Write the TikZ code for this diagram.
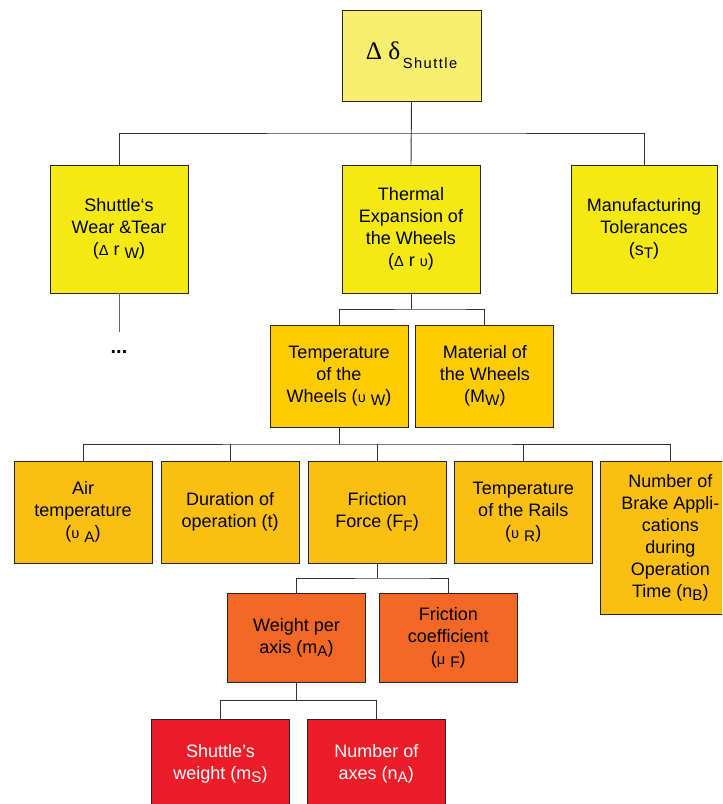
\documentclass[tikz,border=0pt]{standalone}
\usepackage{fontspec}
\setmainfont{Liberation Sans}
\newfontfamily\greekserif{Liberation Serif}
\usepackage{xcolor}
\usetikzlibrary{positioning}

\definecolor{topyellow}{HTML}{F7EE6F}
\definecolor{causeyellow}{HTML}{F5E914}
\definecolor{wheelgold}{HTML}{FFCC00}
\definecolor{heatamber}{HTML}{FBBF12}
\definecolor{forceorange}{HTML}{F26824}
\definecolor{massred}{HTML}{ED1C29}

\newcommand{\lowsub}[1]{\raisebox{-2.5pt}{\fontsize{11.5}{11.5}\selectfont #1}}
\newcommand{\smallgr}[1]{{\fontsize{11}{11}\selectfont #1}}

\begin{document}
\begin{tikzpicture}[
    x=0.75pt, y=-0.75pt,
    box/.style={
        draw=black!85,
        line width=0.6pt,
        align=center,
        inner sep=2pt,
        minimum width=103.5pt,
        font=\fontsize{13.5}{16.5}\selectfont
    },
    link/.style={draw=black!80, line width=0.7pt},
    causebox/.style={box, fill=causeyellow, minimum height=96pt},
    wheelbox/.style={box, fill=wheelgold, minimum height=76.5pt},
    heatbox/.style={box, fill=heatamber, minimum height=76.5pt},
    forcebox/.style={box, fill=forceorange, minimum height=66.75pt},
    massbox/.style={box, fill=massred, minimum height=66.75pt, text=white}
]
\clip (0,0) rectangle (722,804);

% --- top ---
\node[box, fill=topyellow, minimum width=104.25pt, minimum height=68.25pt] (top) at (411.5,55.5)
    {{\greekserif\fontsize{19}{19}\selectfont Δ δ}\raisebox{-7pt}{\fontsize{11}{11}\selectfont\addfontfeature{LetterSpace=10}\,Shuttle}};

% --- causes ---
\node[causebox] (wear) at (119,229) {Shuttle‘s\\Wear \&Tear\\(\smallgr{Δ} r \lowsub{W})};
\node[causebox] (therm) at (411,229) {Thermal\\Expansion of\\the Wheels\\(\smallgr{Δ} r \smallgr{υ})};
\node[causebox, minimum width=109.5pt] (manuf) at (644,229) {Manufacturing\\Tolerances\\(s\lowsub{T})};

\coordinate (wearend) at (119,332);
\node[font=\bfseries\fontsize{15}{15}\selectfont] (more) at (119,352) {...};

% --- wheels ---
\node[wheelbox] (tempw) at (339,376) {Temperature\\of the\\Wheels (\smallgr{υ} \lowsub{W})};
\node[wheelbox, right=5.25pt of tempw] (material) {Material of\\the Wheels\\(M\lowsub{W})};

% --- heat sources ---
\node[heatbox] (air) at (83,512) {Air\\temperature\\(\smallgr{υ} \lowsub{A})};
\node[heatbox, right=6.2pt of air] (dur) {Duration of\\operation (t)};
\node[heatbox, right=6.2pt of dur] (fric) {Friction\\Force (F\lowsub{F})};
\node[heatbox, right=5.5pt of fric] (rails) {Temperature\\of the Rails\\(\smallgr{υ} \lowsub{R})};
\node[heatbox, minimum width=105pt, minimum height=114.75pt, right=5.5pt of rails.north east, anchor=north west] (brake)
    {Number of\\Brake Appli-\\cations\\during\\Operation\\Time (n\lowsub{B})};

% --- friction ---
\node[forcebox] (weight) at (296.5,637.5) {Weight per\\axis (m\lowsub{A})};
\node[forcebox, right=9.75pt of weight] (coeff) {Friction\\coefficient\\(\smallgr{μ} \lowsub{F})};

% --- weight ---
\node[massbox] (sweight) at (220.5,763.5) {Shuttle’s\\weight (m\lowsub{S})};
\node[massbox, right=12.75pt of sweight] (axes) {Number of\\axes (n\lowsub{A})};

% --- tree lines ---
\path (top.south) -- (therm.north) coordinate[midway] (busA);
\draw[link] (top.south) -- (therm.north);
\draw[link] (wear.north) |- (busA) -| (manuf.north);
\draw[link, draw=black!60] (wear.south) -- (wearend);

\path (therm.south) -- (material.north) coordinate[midway] (busB);
\draw[link] (therm.south) -- (therm.south |- busB);
\draw[link] (tempw.north) |- (busB) -| (material.north);

\path (tempw.south) -- (fric.north) coordinate[midway] (busC);
\draw[link] (tempw.south) -- (tempw.south |- busC);
\draw[link] (air.north) |- (busC) -| (brake.north);
\foreach \n in {dur, fric, rails}
    \draw[link] (\n.north) -- (\n.north |- busC);

\path (fric.south) -- (coeff.north) coordinate[midway] (busD);
\draw[link] (fric.south) -- (fric.south |- busD);
\draw[link] (weight.north) |- (busD) -| (coeff.north);

\path (weight.south) -- (axes.north) coordinate[midway] (busE);
\draw[link] (weight.south) -- (weight.south |- busE);
\draw[link] (sweight.north) |- (busE) -| (axes.north);

\end{tikzpicture}
\end{document}
